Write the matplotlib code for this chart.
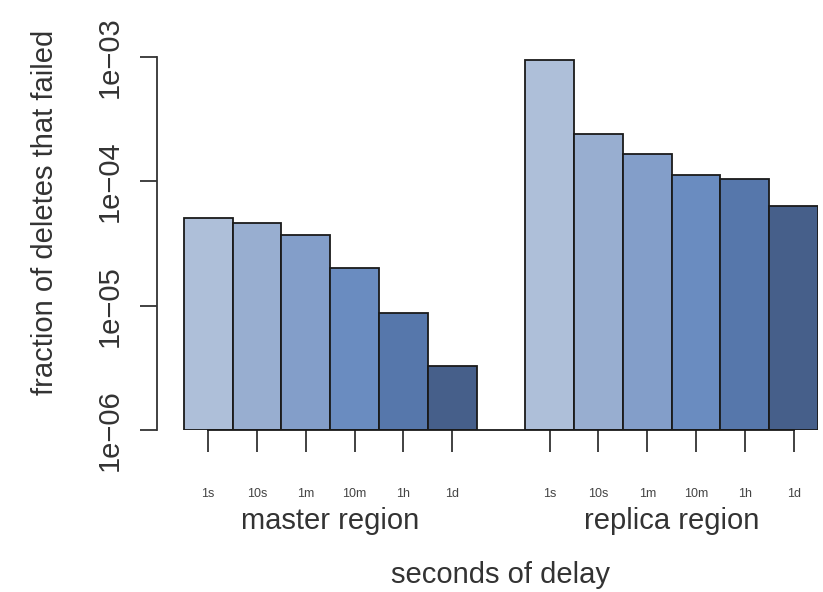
import numpy as np
import matplotlib
matplotlib.use("Agg")
import matplotlib.pyplot as plt
import matplotlib.transforms as mtransforms

plt.rcParams['font.family'] = ['Liberation Sans', 'DejaVu Sans']

delays = ["1s", "10s", "1m", "10m", "1h", "1d"]
groups = ["master region", "replica region"]
master = [5.1e-5, 4.6e-5, 3.7e-5, 2.0e-5, 8.8e-6, 3.3e-6]
replica = [9.5e-4, 2.4e-4, 1.65e-4, 1.12e-4, 1.04e-4, 6.3e-5]
colors = ["#aebfd9", "#98aed0", "#839ec9", "#6a8cc0", "#5677ab", "#465f8a"]
yticks = [1e-6, 1e-5, 1e-4, 1e-3]
ytick_labels = ["1e\u221206", "1e\u221205", "1e\u221204", "1e\u221203"]

fig = plt.figure(figsize=(8.23, 5.92), dpi=100)
ax = fig.add_axes([157 / 823, 162 / 592, 661 / 823, 373 / 592])

x_master = np.arange(len(delays))
x_replica = x_master + len(delays) + 1
base = 1e-6
ax.bar(x_master, np.array(master) - base, bottom=base, width=1.0,
       color=colors, edgecolor="#1a1a1a", linewidth=1.3)
ax.bar(x_replica, np.array(replica) - base, bottom=base, width=1.0,
       color=colors, edgecolor="#1a1a1a", linewidth=1.3)

ax.set_yscale("log")
ax.set_ylim(1e-6, 1e-3)
ax.set_xlim(-1.05, x_replica[-1] + 0.5)

ax.set_yticks(yticks)
ax.set_yticklabels(ytick_labels, rotation=90, va="center", fontsize=21)
ax.yaxis.set_minor_locator(matplotlib.ticker.NullLocator())
ax.tick_params(axis="y", length=12, width=1.3, pad=12, colors="#333333",
               labelcolor="#333333")

xt = np.concatenate([x_master, x_replica])
ax.set_xticks(xt)
ax.set_xticklabels(delays + delays, fontsize=9, color="#444444")
ax.tick_params(axis="x", length=16, width=1.3, pad=26, colors="#333333",
               labelcolor="#444444")

for s in ["top", "right"]:
    ax.spines[s].set_visible(False)
ax.spines["left"].set_linewidth(1.3)
ax.spines["left"].set_color("#333333")
ax.spines["bottom"].set_linewidth(1.3)
ax.spines["bottom"].set_color("#1a1a1a")
ax.spines["bottom"].set_bounds(x_master[0], x_replica[-1])

trans = mtransforms.blended_transform_factory(ax.transData, ax.transAxes)
for gx, name in zip([x_master.mean(), x_replica.mean()], groups):
    ax.text(gx, -0.245, name, transform=trans, ha="center", va="center",
            fontsize=21, color="#333333")

fig.text(500 / 823, 1 - 575 / 592, "seconds of delay", ha="center",
         va="center", fontsize=21, color="#333333")
fig.text(45 / 823, 1 - 212 / 592, "fraction of deletes that failed",
         rotation=90, ha="center", va="center", fontsize=21, color="#333333")

fig.savefig("out.png", dpi=100)
